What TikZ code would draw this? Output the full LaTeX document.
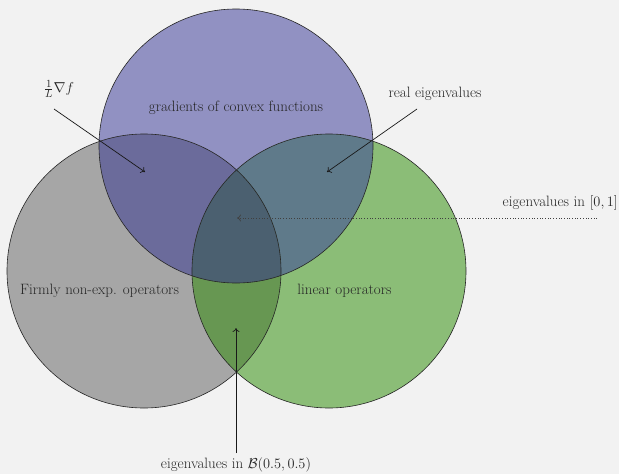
\documentclass[tikz,border=0pt]{standalone}
\usepackage{amsmath}
\usetikzlibrary{arrows.meta}
\definecolor{bg}{HTML}{F2F2F2}
\definecolor{cT}{HTML}{9191C2}
\definecolor{cL}{HTML}{A6A6A6}
\definecolor{cR}{HTML}{8BBD77}
\definecolor{cTL}{HTML}{6B6B9B}
\definecolor{cTR}{HTML}{5F7A8A}
\definecolor{cLR}{HTML}{679752}
\definecolor{cTLR}{HTML}{4B6070}
\tikzset{
  lbl/.style={inner sep=0pt, text=black!85, font=\fontsize{15}{18}\selectfont},
  ptr/.style={draw=black!90, line width=0.7pt, -{To[length=4pt,width=7pt]}},
  dptr/.style={draw=black!75, line width=0.7pt, dotted, -{To[length=4pt,width=7pt]}},
  ring/.style={draw=black!85, line width=0.6pt},
}
\begin{document}
\begin{tikzpicture}[x=1pt,y=-1pt]
\fill[bg] (0,0) rectangle (619,474);
\useasboundingbox (0,0) rectangle (619,474);
\def\circT{(236,146) circle[radius=137]}
\def\circL{(144,271) circle[radius=137]}
\def\circR{(329,271) circle[radius=137]}
\fill[cT] \circT;
\fill[cL] \circL;
\fill[cR] \circR;
\begin{scope}\clip \circT; \fill[cTL] \circL; \fill[cTR] \circR; \end{scope}
\begin{scope}\clip \circL; \fill[cLR] \circR; \end{scope}
\begin{scope}\clip \circT; \clip \circL; \fill[cTLR] \circR; \end{scope}
\draw[ring] \circT;
\draw[ring] \circL;
\draw[ring] \circR;
\node[lbl] (grad) at (236,108) {gradients of convex functions};
\node[lbl] (real) at (435,94) {real eigenvalues};
\node[lbl, anchor=east] (e01) at (618,203) {eigenvalues in $[0,1]$};
\node[lbl] (nab) at (59,89) {$\frac{1}{L}\nabla f$};
\node[lbl] (firm) at (99.5,291) {Firmly non-exp. operators};
\node[lbl] (lin) at (344.5,291) {linear operators};
\node[lbl] (beta) at (236,465) {eigenvalues in $\mathcal{B}(0.5,0.5)$};
\coordinate (tTL) at (145,172);
\coordinate (tTR) at (327,172);
\coordinate (tAll) at (237,218);
\coordinate (tLR) at (236,328);
\coordinate (sTL) at (54,109);
\coordinate (sTR) at (417,109);
\coordinate (sAll) at (597,218);
\coordinate (sLR) at (236,453);
\draw[ptr] (sTL) -- (tTL);
\draw[ptr] (sTR) -- (tTR);
\draw[dptr] (sAll) -- (tAll);
\draw[ptr] (sLR) -- (tLR);
\end{tikzpicture}
\end{document}
